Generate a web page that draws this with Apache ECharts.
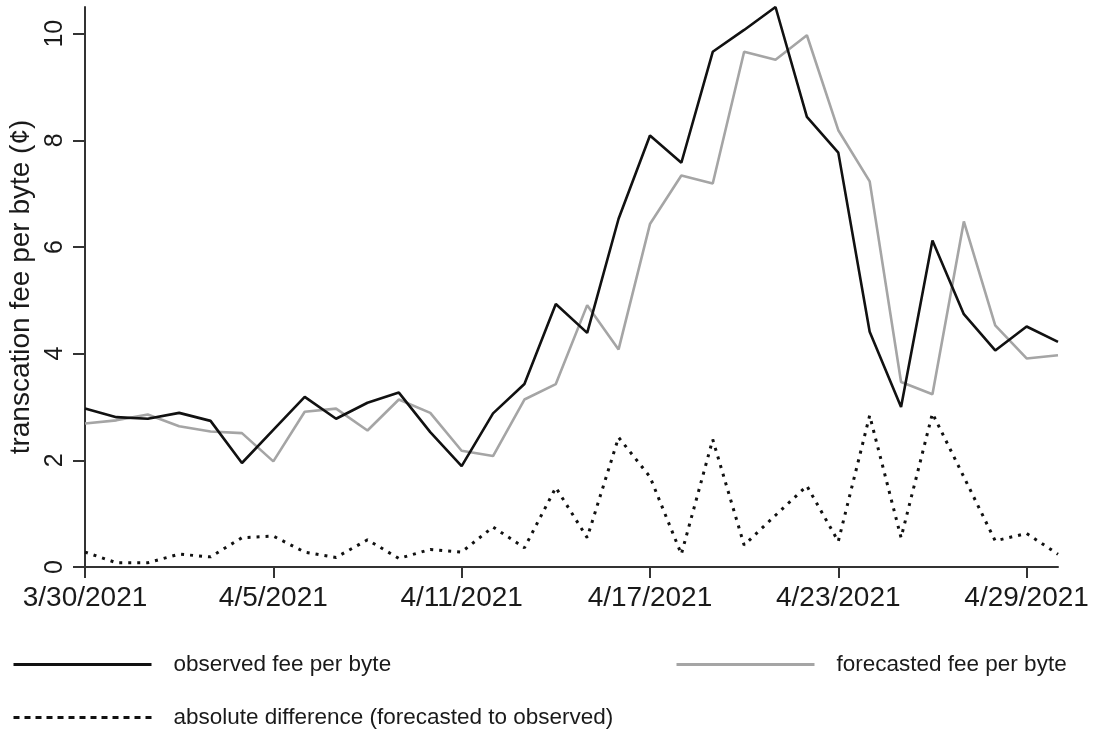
<!DOCTYPE html>
<html>
<head>
<meta charset="utf-8">
<script src="https://cdn.jsdelivr.net/npm/echarts@6/dist/echarts.min.js"></script>
<style>
html,body{margin:0;padding:0;background:#fff;}
#chart{width:1094px;height:738px;}
</style>
</head>
<body>
<div id="chart"></div>
<script>
const dates = ["3/30/2021","3/31/2021","4/1/2021","4/2/2021","4/3/2021","4/4/2021","4/5/2021","4/6/2021",
  "4/7/2021","4/8/2021","4/9/2021","4/10/2021","4/11/2021","4/12/2021","4/13/2021","4/14/2021",
  "4/15/2021","4/16/2021","4/17/2021","4/18/2021","4/19/2021","4/20/2021","4/21/2021","4/22/2021",
  "4/23/2021","4/24/2021","4/25/2021","4/26/2021","4/27/2021","4/28/2021","4/29/2021","4/30/2021"];
const observed = [2.97,2.81,2.78,2.89,2.74,1.95,2.57,3.19,2.78,3.08,3.27,2.53,1.89,2.88,3.43,4.93,
  4.39,6.53,8.09,7.58,9.66,10.07,10.5,8.44,7.77,4.41,3.0,6.12,4.74,4.06,4.51,4.22];
const forecasted = [2.69,2.75,2.86,2.64,2.54,2.51,1.98,2.91,2.97,2.56,3.14,2.89,2.18,2.08,3.14,3.43,
  4.91,4.08,6.43,7.34,7.19,9.66,9.51,9.97,8.19,7.23,3.47,3.24,6.48,4.53,3.91,3.97];
const absDiff = [0.28,0.08,0.08,0.24,0.19,0.55,0.58,0.28,0.18,0.51,0.16,0.33,0.28,0.75,0.36,1.49,
  0.55,2.43,1.69,0.24,2.39,0.41,0.97,1.52,0.48,2.84,0.55,2.88,1.69,0.49,0.63,0.24];
const yTicks = [0,2,4,6,8,10];
const seriesNames = ["observed fee per byte","forecasted fee per byte","absolute difference (forecasted to observed)"];

const chart = echarts.init(document.getElementById('chart'), null, {renderer:'canvas'});
const font = 'Liberation Sans, Arial, sans-serif';
function legendOf(name, left, top, lineType) {
  return {
    data:[name], left:left, top:top,
    orient:'horizontal', padding:0, itemWidth:138, itemHeight:28,
    selectedMode:false,
    itemStyle:{opacity:0},
    lineStyle:{width:3, type:lineType},
    textStyle:{fontFamily:font, fontSize:22.5, color:'#1a1a1a', padding:[0,0,0,17]}
  };
}
chart.setOption({
  animation:false,
  backgroundColor:'#fff',
  textStyle:{fontFamily:font},
  grid:{left:85, right:36, top:7, bottom:171, containLabel:false, outerBoundsMode:'none'},
  legend:[
    legendOf(seriesNames[0], 12, 653, 'solid'),
    legendOf(seriesNames[1], 675, 653, 'solid'),
    legendOf(seriesNames[2], 12, 706, [6,5])
  ],
  xAxis:{
    type:'category', data:dates, boundaryGap:false,
    axisLine:{lineStyle:{color:'#333', width:2}},
    axisTick:{interval:5, length:11, lineStyle:{color:'#333', width:2}},
    axisLabel:{interval:5, fontSize:28, color:'#1a1a1a', margin:17, fontFamily:font},
    splitLine:{show:false}
  },
  yAxis:{
    type:'value', min:0, max:10.5,
    name:'transcation fee per byte (\u00a2)', nameLocation:'middle', nameGap:46,
    nameTextStyle:{fontSize:28, color:'#1a1a1a', fontFamily:font},
    axisLine:{show:true, lineStyle:{color:'#333', width:2}},
    axisTick:{show:true, length:12, customValues:yTicks, lineStyle:{color:'#333', width:2}},
    axisLabel:{rotate:90, fontSize:25, color:'#1a1a1a', margin:17, customValues:yTicks, fontFamily:font},
    splitLine:{show:false}
  },
  series:[
    {name:seriesNames[0], type:'line', data:observed, symbol:'none',
     lineStyle:{color:'#111', width:2.6}, itemStyle:{color:'#111'}, z:3},
    {name:seriesNames[1], type:'line', data:forecasted, symbol:'none',
     lineStyle:{color:'#a5a5a5', width:2.6}, itemStyle:{color:'#a5a5a5'}, z:2},
    {name:seriesNames[2], type:'line', data:absDiff, symbol:'none',
     lineStyle:{color:'#111', width:3, type:[3,6]}, itemStyle:{color:'#111'}, z:1}
  ]
});
</script>
</body>
</html>
